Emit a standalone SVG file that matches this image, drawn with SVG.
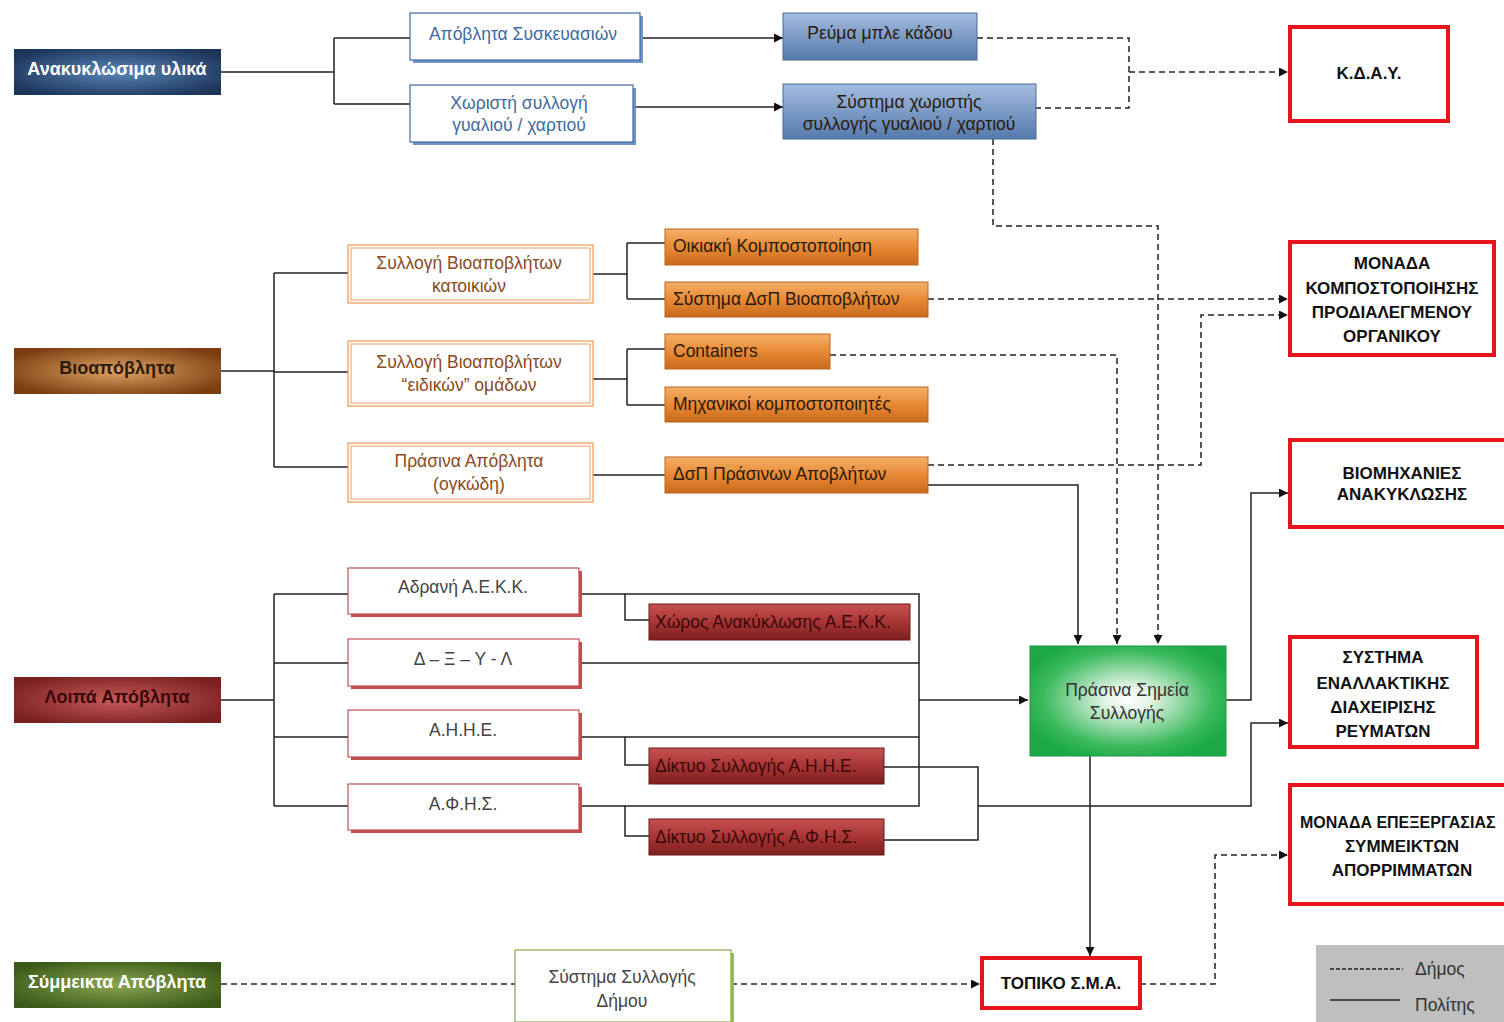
<svg xmlns="http://www.w3.org/2000/svg" width="1504" height="1022" viewBox="0 0 1504 1022">
<defs>
<radialGradient id="gNavy" cx="50%" cy="50%" r="60%"><stop offset="0" stop-color="#5a86bb"/><stop offset="1" stop-color="#1c355a"/></radialGradient>
<radialGradient id="gBrown" cx="50%" cy="50%" r="60%"><stop offset="0" stop-color="#e0a465"/><stop offset="1" stop-color="#7a3d10"/></radialGradient>
<radialGradient id="gRed" cx="50%" cy="50%" r="60%"><stop offset="0" stop-color="#c75a5a"/><stop offset="1" stop-color="#7a2020"/></radialGradient>
<radialGradient id="gOlive" cx="50%" cy="50%" r="60%"><stop offset="0" stop-color="#88a650"/><stop offset="1" stop-color="#3b5a18"/></radialGradient>
<radialGradient id="gGreen" cx="50%" cy="48%" r="58%"><stop offset="0" stop-color="#ffffff"/><stop offset="0.2" stop-color="#e2f4e6"/><stop offset="0.75" stop-color="#3cba5e"/><stop offset="1" stop-color="#1aa746"/></radialGradient>
<linearGradient id="gBlue" x1="0" y1="0" x2="0" y2="1"><stop offset="0" stop-color="#a3bde0"/><stop offset="1" stop-color="#557aac"/></linearGradient>
<linearGradient id="gOrange" x1="0" y1="0" x2="0" y2="1"><stop offset="0" stop-color="#f4b069"/><stop offset="0.5" stop-color="#e88a35"/><stop offset="1" stop-color="#c96a1c"/></linearGradient>
<linearGradient id="gDRed" x1="0" y1="0" x2="0" y2="1"><stop offset="0" stop-color="#c65050"/><stop offset="0.5" stop-color="#a83535"/><stop offset="1" stop-color="#7e1f1f"/></linearGradient>
<marker id="arr" viewBox="0 0 10 10" refX="10" refY="5" markerWidth="9" markerHeight="9" markerUnits="userSpaceOnUse" orient="auto"><path d="M0,0 L10,5 L0,10 z" fill="#111"/></marker>
</defs>
<style>
text{font-family:"Liberation Sans",Arial,sans-serif;font-size:17.5px;text-anchor:middle;dominant-baseline:central}
.main{font-weight:bold;font-size:18px}
.w{fill:#ffffff}
.dk{fill:#2a1a0a}
.blueT{fill:#3f6aa3}
.brownT{fill:#8a4a22}
.grayT{fill:#444}
.redT{fill:#3a0808}
.bold{font-weight:bold;fill:#111;font-size:17px}
.ln{fill:none;stroke:#222;stroke-width:1.5}
.dash{fill:none;stroke:#222;stroke-width:1.5;stroke-dasharray:6,4}
.redbox{fill:#fff;stroke:#e8141c;stroke-width:4}
</style>
<rect width="1504" height="1022" fill="#fff"/>

<g id="connectors">
<path class="ln" d="M221,72 H334 M334,38 V104 M334,38 H410 M334,104 H410"/>
<path class="ln" d="M640,38 H783" marker-end="url(#arr)"/>
<path class="ln" d="M633,107 H783" marker-end="url(#arr)"/>
<path class="dash" d="M977,38 H1129 V108 H1036"/>
<path class="dash" d="M1129,72 H1288" marker-end="url(#arr)"/>
<path class="dash" d="M993,139 V226 H1158 V644" marker-end="url(#arr)"/>
<path class="ln" d="M221,371 H274 M274,273 V467 M274,273 H348 M274,372 H348 M274,467 H348"/>
<path class="ln" d="M593,274 H627 M627,243 V299 M627,243 H665 M627,299 H665"/>
<path class="ln" d="M593,379 H627 M627,349 V405 M627,349 H665 M627,405 H665"/>
<path class="ln" d="M593,475 H665"/>
<path class="dash" d="M928,299 H1288" marker-end="url(#arr)"/>
<path class="dash" d="M928,465 H1201 V315 H1288" marker-end="url(#arr)"/>
<path class="dash" d="M830,355 H1117 V644" marker-end="url(#arr)"/>
<path class="ln" d="M928,485 H1078 V644" marker-end="url(#arr)"/>
<path class="ln" d="M221,700 H274 M274,594 V806 M274,594 H348 M274,663 H348 M274,737 H348 M274,806 H348"/>
<path class="ln" d="M579,594 H919 V806 H579 M579,663 H919 M579,737 H919"/>
<path class="ln" d="M625,594 V620 H649 M625,737 V765 H649 M625,806 V836 H649"/>
<path class="ln" d="M919,700 H1028" marker-end="url(#arr)"/>
<path class="ln" d="M884,767 H978 V840 H884"/>
<path class="ln" d="M978,806 H1251 V723 H1288" marker-end="url(#arr)"/>
<path class="ln" d="M1226,700 H1251 V493 H1288" marker-end="url(#arr)"/>
<path class="ln" d="M1090,756 V956" marker-end="url(#arr)"/>
<path class="dash" d="M221,984 H515"/>
<path class="dash" d="M731,984 H980" marker-end="url(#arr)"/>
<path class="dash" d="M1140,984 H1215 V855 H1288" marker-end="url(#arr)"/>
</g>

<g id="n-anakyklosima"><rect x="14" y="49" width="207" height="46" fill="url(#gNavy)"/><text x="117" y="69" class="main w">Ανακυκλώσιμα  υλικά</text></g>
<g id="n-bioapovlita"><rect x="14" y="348" width="207" height="46" fill="url(#gBrown)"/><text x="117" y="368" class="main dk">Βιοαπόβλητα</text></g>
<g id="n-loipa"><rect x="14" y="677" width="207" height="46" fill="url(#gRed)"/><text x="117" y="697" class="main redT">Λοιπά Απόβλητα</text></g>
<g id="n-symmeikta"><rect x="14" y="962" width="207" height="46" fill="url(#gOlive)"/><text x="117" y="982" class="main w">Σύμμεικτα Απόβλητα</text></g>

<g id="n-syskevasion"><rect x="413" y="16" width="230" height="47" fill="#6f95c8"/><rect x="410" y="13" width="230" height="47" fill="#fff" stroke="#3f6aa3" stroke-width="1.2"/><text x="523" y="34" class="blueT">Απόβλητα Συσκευασιών</text></g>
<g id="n-xoristi"><rect x="413" y="88" width="223" height="57" fill="#6f95c8"/><rect x="410" y="85" width="223" height="57" fill="#fff" stroke="#3f6aa3" stroke-width="1.2"/><text x="519" y="103" class="blueT">Χωριστή συλλογή</text><text x="519" y="125" class="blueT">γυαλιού / χαρτιού</text></g>
<g id="n-mple"><rect x="783" y="13" width="194" height="47" fill="url(#gBlue)" stroke="#4a6a98"/><text x="880" y="33" class="dk">Ρεύμα μπλε κάδου</text></g>
<g id="n-systima-xor"><rect x="783" y="84" width="253" height="55" fill="url(#gBlue)" stroke="#4a6a98"/><text x="909" y="102" class="dk">Σύστημα χωριστής</text><text x="909" y="124" class="dk">συλλογής γυαλιού / χαρτιού</text></g>
<g id="n-kday"><rect x="1290" y="27" width="158" height="94" class="redbox"/><text x="1369" y="73" class="bold">Κ.Δ.Α.Υ.</text></g>

<g id="n-bio-katoikion"><rect x="348" y="245" width="245" height="58" fill="#fff" stroke="#e89a50" stroke-width="1.2"/><rect x="351" y="248" width="239" height="52" fill="none" stroke="#e8a060" stroke-width="1"/><text x="469" y="263" class="brownT">Συλλογή Βιοαποβλήτων</text><text x="469" y="286" class="brownT">κατοικιών</text></g>
<g id="n-bio-eidikon"><rect x="348" y="341" width="245" height="65" fill="#fff" stroke="#e89a50" stroke-width="1.2"/><rect x="351" y="344" width="239" height="59" fill="none" stroke="#e8a060" stroke-width="1"/><text x="469" y="362" class="brownT">Συλλογή Βιοαποβλήτων</text><text x="469" y="385" class="brownT">“ειδικών” ομάδων</text></g>
<g id="n-prasina-apov"><rect x="348" y="443" width="245" height="59" fill="#fff" stroke="#e89a50" stroke-width="1.2"/><rect x="351" y="446" width="239" height="53" fill="none" stroke="#e8a060" stroke-width="1"/><text x="469" y="461" class="brownT">Πράσινα Απόβλητα</text><text x="469" y="484" class="brownT">(ογκώδη)</text></g>
<g id="n-oikiaki"><rect x="665" y="229" width="253" height="36" fill="url(#gOrange)" stroke="#b8651e"/><text x="673" y="246" class="dk" style="text-anchor:start">Οικιακή Κομποστοποίηση</text></g>
<g id="n-dsp-bio"><rect x="665" y="282" width="263" height="35" fill="url(#gOrange)" stroke="#b8651e"/><text x="673" y="299" class="dk" style="text-anchor:start">Σύστημα ΔσΠ Βιοαποβλήτων</text></g>
<g id="n-containers"><rect x="665" y="334" width="165" height="35" fill="url(#gOrange)" stroke="#b8651e"/><text x="673" y="351" class="dk" style="text-anchor:start">Containers</text></g>
<g id="n-mixanikoi"><rect x="665" y="387" width="263" height="35" fill="url(#gOrange)" stroke="#b8651e"/><text x="673" y="404" class="dk" style="text-anchor:start">Μηχανικοί κομποστοποιητές</text></g>
<g id="n-dsp-prasinon"><rect x="665" y="457" width="263" height="36" fill="url(#gOrange)" stroke="#b8651e"/><text x="673" y="474" class="dk" style="text-anchor:start">ΔσΠ Πράσινων Αποβλήτων</text></g>
<g id="n-monada-komp"><rect x="1290" y="242" width="204" height="113" class="redbox"/><text x="1392" y="263" class="bold">ΜΟΝΑΔΑ</text><text x="1392" y="288" class="bold">ΚΟΜΠΟΣΤΟΠΟΙΗΣΗΣ</text><text x="1392" y="312" class="bold">ΠΡΟΔΙΑΛΕΓΜΕΝΟΥ</text><text x="1392" y="336" class="bold">ΟΡΓΑΝΙΚΟΥ</text></g>

<g id="n-adrani"><rect x="351" y="571" width="231" height="46" fill="#c0504d"/><rect x="348" y="568" width="231" height="46" fill="#fff" stroke="#c0504d" stroke-width="1.2"/><text x="463" y="587" class="grayT">Αδρανή Α.Ε.Κ.Κ.</text></g>
<g id="n-dxyl"><rect x="351" y="642" width="231" height="47" fill="#c0504d"/><rect x="348" y="639" width="231" height="47" fill="#fff" stroke="#c0504d" stroke-width="1.2"/><text x="463" y="659" class="grayT">Δ – Ξ – Υ - Λ</text></g>
<g id="n-ahhe"><rect x="351" y="713" width="231" height="47" fill="#c0504d"/><rect x="348" y="710" width="231" height="47" fill="#fff" stroke="#c0504d" stroke-width="1.2"/><text x="463" y="730" class="grayT">Α.Η.Η.Ε.</text></g>
<g id="n-afhs"><rect x="351" y="787" width="231" height="46" fill="#c0504d"/><rect x="348" y="784" width="231" height="46" fill="#fff" stroke="#c0504d" stroke-width="1.2"/><text x="463" y="804" class="grayT">Α.Φ.Η.Σ.</text></g>
<g id="n-xoros"><rect x="649" y="604" width="261" height="36" fill="url(#gDRed)" stroke="#6a1818"/><text x="655" y="622" class="redT" style="text-anchor:start">Χώρος Ανακύκλωσης Α.Ε.Κ.Κ.</text></g>
<g id="n-diktyo-ahhe"><rect x="649" y="748" width="235" height="36" fill="url(#gDRed)" stroke="#6a1818"/><text x="655" y="766" class="redT" style="text-anchor:start">Δίκτυο Συλλογής Α.Η.Η.Ε.</text></g>
<g id="n-diktyo-afhs"><rect x="649" y="819" width="235" height="36" fill="url(#gDRed)" stroke="#6a1818"/><text x="655" y="837" class="redT" style="text-anchor:start">Δίκτυο Συλλογής Α.Φ.Η.Σ.</text></g>
<g id="n-psS"><rect x="1030" y="646" width="196" height="110" fill="url(#gGreen)" stroke="#1a9a40"/><text x="1127" y="690" fill="#333">Πράσινα Σημεία</text><text x="1127" y="713" fill="#333">Συλλογής</text></g>
<g id="n-viomixanies"><rect x="1290" y="440" width="218" height="87" class="redbox"/><text x="1402" y="473" class="bold">ΒΙΟΜΗΧΑΝΙΕΣ</text><text x="1402" y="494" class="bold">ΑΝΑΚΥΚΛΩΣΗΣ</text></g>
<g id="n-systima-enal"><rect x="1290" y="637" width="187" height="110" class="redbox"/><text x="1383" y="657" class="bold">ΣΥΣΤΗΜΑ</text><text x="1383" y="683" class="bold">ΕΝΑΛΛΑΚΤΙΚΗΣ</text><text x="1383" y="707" class="bold">ΔΙΑΧΕΙΡΙΣΗΣ</text><text x="1383" y="731" class="bold">ΡΕΥΜΑΤΩΝ</text></g>
<g id="n-monada-epex"><rect x="1290" y="785" width="218" height="119" class="redbox"/><text x="1300" y="822" class="bold" style="text-anchor:start;font-size:16px">ΜΟΝΑΔΑ ΕΠΕΞΕΡΓΑΣΙΑΣ</text><text x="1402" y="846" class="bold">ΣΥΜΜΕΙΚΤΩΝ</text><text x="1402" y="870" class="bold">ΑΠΟΡΡΙΜΜΑΤΩΝ</text></g>

<g id="n-systima-dimou"><rect x="518" y="953" width="216" height="72" fill="#9bbb59"/><rect x="515" y="950" width="216" height="72" fill="#fff" stroke="#8aa84a" stroke-width="1.2"/><text x="622" y="977" class="grayT">Σύστημα Συλλογής</text><text x="622" y="1001" class="grayT">Δήμου</text></g>
<g id="n-topiko"><rect x="982" y="958" width="158" height="50" class="redbox"/><text x="1061" y="983" class="bold">ΤΟΠΙΚΟ Σ.Μ.Α.</text></g>

<g id="legend"><rect x="1316" y="945" width="190" height="79" fill="#bfbfbf"/><path d="M1330,969 H1403" stroke="#222" stroke-width="1.3" stroke-dasharray="4,2"/><text x="1415" y="969" fill="#333" style="text-anchor:start">Δήμος</text><path d="M1330,1000 H1400" stroke="#222" stroke-width="1.3"/><text x="1415" y="1005" fill="#333" style="text-anchor:start">Πολίτης</text></g>
</svg>
